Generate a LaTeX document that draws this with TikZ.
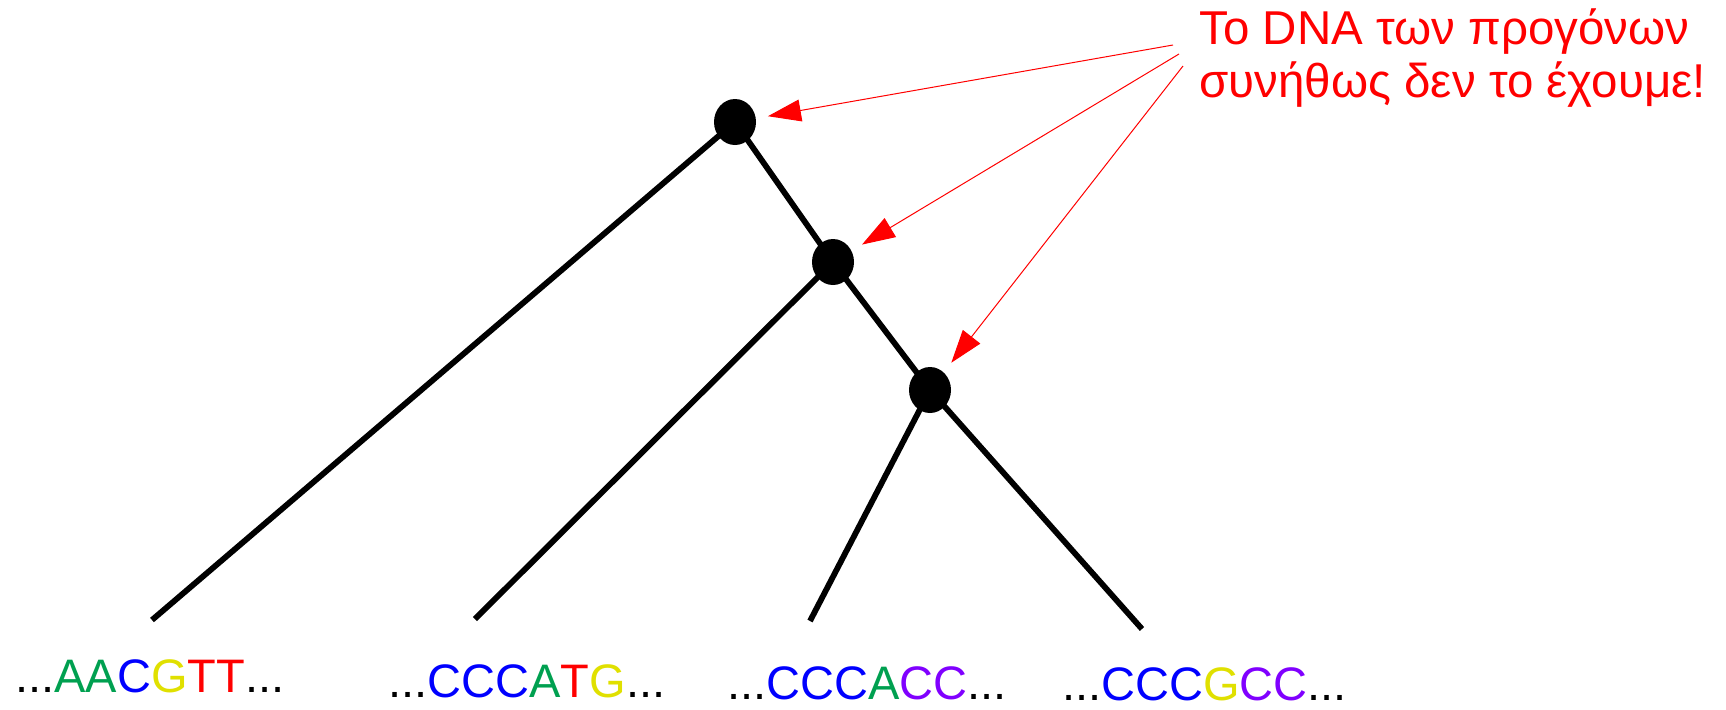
\documentclass[tikz,border=0pt]{standalone}
\usepackage{fontspec}
\setmainfont{Liberation Sans}
\usepackage{tikz}
\usetikzlibrary{arrows.meta,shapes.geometric}
\definecolor{baseGreen}{HTML}{00A050}
\definecolor{baseBlue}{HTML}{0000FF}
\definecolor{baseYellow}{HTML}{E0E000}
\definecolor{baseRed}{HTML}{FF0000}
\definecolor{basePurple}{HTML}{8000FF}
\newcommand{\baseA}[0]{\textcolor{baseGreen}{A}}
\newcommand{\baseC}[0]{\textcolor{baseBlue}{C}}
\newcommand{\baseCp}[0]{\textcolor{basePurple}{C}}
\newcommand{\baseG}[0]{\textcolor{baseYellow}{G}}
\newcommand{\baseT}[0]{\textcolor{baseRed}{T}}
\newcommand{\seqFont}[0]{\fontsize{23.5pt}{26.5pt}\selectfont}
\newcommand{\noteFont}[0]{\fontsize{23.75pt}{26.5pt}\selectfont}
\newcommand{\branchWidth}[0]{2.9pt}

\begin{document}
\begin{tikzpicture}[x=0.5pt, y=-0.5pt]
  \tikzset{
    ancestor/.style={ellipse, fill=black, inner sep=0pt, minimum width=21pt, minimum height=23pt},
    branch/.style={line width=\branchWidth},
    pointer/.style={red, line width=0.5pt, -{Triangle[length=16.5pt, width=11pt]}, shorten >=6pt},
    seq/.style={anchor=base west, inner sep=0pt, font=\seqFont}
  }
  \useasboundingbox (0,0) rectangle (1726,709);
  \node[ancestor] (A-1) at (735,122) {};
  \node[ancestor] (A-2) at (833,262) {};
  \node[ancestor] (A-3) at (930,390) {};
  \coordinate (L-1) at (152,620);
  \coordinate (L-2) at (475,619);
  \coordinate (L-3) at (810,621);
  \coordinate (L-4) at (1142,629);
  \draw[branch] (A-1.center) -- (L-1);
  \draw[branch] (A-1.center) -- (A-2.center);
  \draw[branch] (A-2.center) -- (L-2);
  \draw[branch] (A-2.center) -- (A-3.center);
  \draw[branch] (A-3.center) -- (L-3);
  \draw[branch] (A-3.center) -- (L-4);
  \node[seq] (S-1) at (15,692) {...\baseA\baseA\baseC\baseG\baseT\baseT...};
  \node[seq] (S-2) at (388,697) {...\baseC\baseC\baseC\baseA\baseT\baseG...};
  \node[seq] (S-3) at (727,699) {...\baseC\baseC\baseC\baseA\baseCp\baseCp...};
  \node[seq] (S-4) at (1062,700) {...\baseC\baseC\baseC\baseG\baseCp\baseCp...};
  \node[anchor=base west, align=left, inner sep=0pt, red, font=\noteFont] (note) at (1199,97)
    {To DNA των προγόνων\\συνήθως δεν το έχουμε!};
  \coordinate (P-1) at (1173,45);
  \coordinate (P-2) at (1179,54);
  \coordinate (P-3) at (1183,66);
  \draw[pointer] (P-1) -- (A-1);
  \draw[pointer] (P-2) -- (A-2);
  \draw[pointer] (P-3) -- (A-3);
\end{tikzpicture}
\end{document}
